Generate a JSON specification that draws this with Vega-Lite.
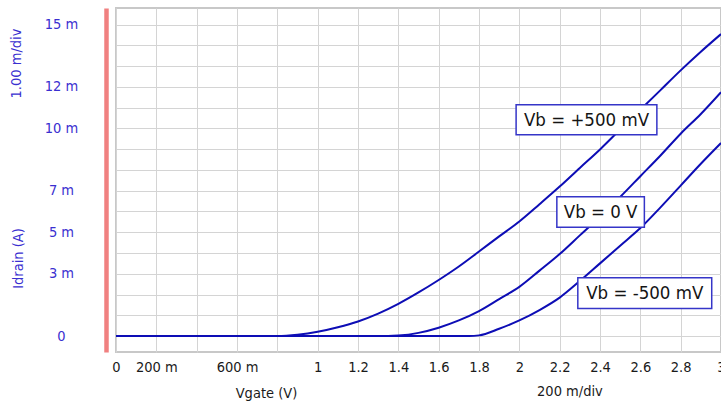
{
  "$schema": "https://vega.github.io/schema/vega-lite/v6.json",
  "width": 605,
  "height": 344,
  "autosize": {"type": "none"},
  "padding": {"left": 116, "top": 8, "right": 0, "bottom": 52},
  "background": "white",
  "config": {"view": {"stroke": "#c8c8c8", "strokeWidth": 2}},
  "layer": [
    {
      "data": {"values": [
        {"Vb": "+500 mV", "Vgate": 0, "Idrain": 0},
        {"Vb": "+500 mV", "Vgate": 0.8, "Idrain": 0},
        {"Vb": "+500 mV", "Vgate": 0.9, "Idrain": 0.00006},
        {"Vb": "+500 mV", "Vgate": 1.0, "Idrain": 0.0002},
        {"Vb": "+500 mV", "Vgate": 1.1, "Idrain": 0.00042},
        {"Vb": "+500 mV", "Vgate": 1.2, "Idrain": 0.0007},
        {"Vb": "+500 mV", "Vgate": 1.3, "Idrain": 0.00108},
        {"Vb": "+500 mV", "Vgate": 1.4, "Idrain": 0.00155},
        {"Vb": "+500 mV", "Vgate": 1.5, "Idrain": 0.0021},
        {"Vb": "+500 mV", "Vgate": 1.6, "Idrain": 0.0027},
        {"Vb": "+500 mV", "Vgate": 1.7, "Idrain": 0.00335},
        {"Vb": "+500 mV", "Vgate": 1.8, "Idrain": 0.00407},
        {"Vb": "+500 mV", "Vgate": 1.9, "Idrain": 0.0048},
        {"Vb": "+500 mV", "Vgate": 2.0, "Idrain": 0.00552},
        {"Vb": "+500 mV", "Vgate": 2.1, "Idrain": 0.00635},
        {"Vb": "+500 mV", "Vgate": 2.2, "Idrain": 0.0072},
        {"Vb": "+500 mV", "Vgate": 2.3, "Idrain": 0.0081},
        {"Vb": "+500 mV", "Vgate": 2.4, "Idrain": 0.00899},
        {"Vb": "+500 mV", "Vgate": 2.5, "Idrain": 0.00995},
        {"Vb": "+500 mV", "Vgate": 2.6, "Idrain": 0.0109},
        {"Vb": "+500 mV", "Vgate": 2.7, "Idrain": 0.01185},
        {"Vb": "+500 mV", "Vgate": 2.8, "Idrain": 0.0128},
        {"Vb": "+500 mV", "Vgate": 2.9, "Idrain": 0.0137},
        {"Vb": "+500 mV", "Vgate": 3.0, "Idrain": 0.01455},
        {"Vb": "0 V", "Vgate": 0, "Idrain": 0},
        {"Vb": "0 V", "Vgate": 1.35, "Idrain": 0},
        {"Vb": "0 V", "Vgate": 1.4, "Idrain": 0.00002},
        {"Vb": "0 V", "Vgate": 1.5, "Idrain": 0.00015},
        {"Vb": "0 V", "Vgate": 1.6, "Idrain": 0.0004},
        {"Vb": "0 V", "Vgate": 1.7, "Idrain": 0.00075},
        {"Vb": "0 V", "Vgate": 1.8, "Idrain": 0.0012},
        {"Vb": "0 V", "Vgate": 1.9, "Idrain": 0.00178},
        {"Vb": "0 V", "Vgate": 2.0, "Idrain": 0.00237},
        {"Vb": "0 V", "Vgate": 2.1, "Idrain": 0.00315},
        {"Vb": "0 V", "Vgate": 2.2, "Idrain": 0.00395},
        {"Vb": "0 V", "Vgate": 2.3, "Idrain": 0.00485},
        {"Vb": "0 V", "Vgate": 2.4, "Idrain": 0.00575},
        {"Vb": "0 V", "Vgate": 2.5, "Idrain": 0.0067},
        {"Vb": "0 V", "Vgate": 2.6, "Idrain": 0.0077},
        {"Vb": "0 V", "Vgate": 2.7, "Idrain": 0.0087},
        {"Vb": "0 V", "Vgate": 2.8, "Idrain": 0.00975},
        {"Vb": "0 V", "Vgate": 2.9, "Idrain": 0.0107},
        {"Vb": "0 V", "Vgate": 3.0, "Idrain": 0.01175},
        {"Vb": "-500 mV", "Vgate": 0, "Idrain": 0},
        {"Vb": "-500 mV", "Vgate": 1.75, "Idrain": 0},
        {"Vb": "-500 mV", "Vgate": 1.8, "Idrain": 0.00003},
        {"Vb": "-500 mV", "Vgate": 1.9, "Idrain": 0.00035},
        {"Vb": "-500 mV", "Vgate": 2.0, "Idrain": 0.00075},
        {"Vb": "-500 mV", "Vgate": 2.1, "Idrain": 0.00125},
        {"Vb": "-500 mV", "Vgate": 2.2, "Idrain": 0.00185},
        {"Vb": "-500 mV", "Vgate": 2.3, "Idrain": 0.00265},
        {"Vb": "-500 mV", "Vgate": 2.4, "Idrain": 0.0035},
        {"Vb": "-500 mV", "Vgate": 2.5, "Idrain": 0.00435},
        {"Vb": "-500 mV", "Vgate": 2.6, "Idrain": 0.0052},
        {"Vb": "-500 mV", "Vgate": 2.7, "Idrain": 0.0062},
        {"Vb": "-500 mV", "Vgate": 2.8, "Idrain": 0.00725},
        {"Vb": "-500 mV", "Vgate": 2.9, "Idrain": 0.0083},
        {"Vb": "-500 mV", "Vgate": 3.0, "Idrain": 0.0093}
      ]},
      "mark": {"type": "line", "color": "#0d0db5", "strokeWidth": 2, "interpolate": "monotone"},
      "encoding": {
        "x": {
          "field": "Vgate", "type": "quantitative",
          "scale": {"domain": [0, 3], "nice": false, "zero": false},
          "axis": {
            "values": [0, 0.2, 0.4, 0.6, 0.8, 1, 1.2, 1.4, 1.6, 1.8, 2, 2.2, 2.4, 2.6, 2.8, 3],
            "tickCount": 100,
            "labelExpr": "(round(datum.value * 5) == 2 || round(datum.value * 5) == 4) ? '' : (datum.value > 0 && datum.value < 1 ? format(round(datum.value * 1000), 'd') + ' m' : format(datum.value, '~g'))",
            "domain": false, "ticks": false, "tickSize": 0,
            "labelPadding": 8, "labelFont": "DejaVu Sans Condensed", "labelFontSize": 14.5, "labelColor": "#1a1a1a",
            "labelFlush": false, "labelOverlap": false, "labelBound": false,
            "grid": true, "gridColor": "#d4d4d4", "gridWidth": 1,
            "title": "Vgate (V)", "titleFont": "DejaVu Sans Condensed", "titleFontSize": 14.5, "titleFontWeight": "normal", "titleColor": "#1a1a1a",
            "titleX": 150, "titleY": 41, "titleAlign": "center", "titleBaseline": "middle"
          }
        },
        "y": {
          "field": "Idrain", "type": "quantitative",
          "scale": {"domain": [-0.000771, 0.015807], "nice": false, "zero": false},
          "axis": {
            "values": [0, 0.001, 0.002, 0.003, 0.004, 0.005, 0.006, 0.007, 0.008, 0.009, 0.01, 0.011, 0.012, 0.013, 0.014, 0.015],
            "tickCount": 100,
            "labelExpr": "(round(datum.value * 1000) == 0) ? '0' : ((round(datum.value * 1000) == 3 || round(datum.value * 1000) == 5 || round(datum.value * 1000) == 7 || round(datum.value * 1000) == 10 || round(datum.value * 1000) == 12 || round(datum.value * 1000) == 15) ? format(round(datum.value * 1000), 'd') + ' m' : '')",
            "offset": 10, "domainColor": "#f08080", "domainWidth": 4.5,
            "ticks": false, "tickSize": 0,
            "labelPadding": 45, "labelAlign": "center", "labelBaseline": "middle",
            "labelFont": "DejaVu Sans Condensed", "labelFontSize": 14.5, "labelColor": "#3a2fd0",
            "labelOverlap": false, "labelBound": false, "labelFlush": false,
            "grid": true, "gridColor": "#d4d4d4", "gridWidth": 1,
            "title": "Idrain (A)", "titleFont": "DejaVu Sans Condensed", "titleFontSize": 14.5, "titleFontWeight": "normal", "titleColor": "#3a2fd0",
            "titleX": -88, "titleY": 250, "titleAngle": 270, "titleAlign": "center", "titleBaseline": "middle"
          }
        },
        "detail": {"field": "Vb"}
      }
    },
    {
      "data": {"values": [{}]},
      "mark": {"type": "text", "text": "1.00 m/div", "angle": 270, "font": "DejaVu Sans Condensed", "fontSize": 14.5, "color": "#3a2fd0", "align": "center", "baseline": "middle"},
      "encoding": {"x": {"datum": -0.491, "type": "quantitative"}, "y": {"datum": 0.01313, "type": "quantitative"}}
    },
    {
      "data": {"values": [{}]},
      "mark": {"type": "text", "text": "200 m/div", "font": "DejaVu Sans Condensed", "fontSize": 14.5, "color": "#1a1a1a", "align": "center", "baseline": "middle"},
      "encoding": {"x": {"datum": 2.251, "type": "quantitative"}, "y": {"datum": -0.0027, "type": "quantitative"}}
    },
    {
      "data": {"values": [{}]},
      "mark": {"type": "rect", "fill": "white", "stroke": "#3535c8", "strokeWidth": 1.5},
      "encoding": {"x": {"datum": 1.984, "type": "quantitative"}, "x2": {"datum": 2.682}, "y": {"datum": 0.01115, "type": "quantitative"}, "y2": {"datum": 0.0097}}
    },
    {
      "data": {"values": [{}]},
      "mark": {"type": "text", "text": "Vb = +500 mV", "font": "DejaVu Sans Condensed", "fontSize": 18.5, "color": "#141414", "align": "center", "baseline": "middle"},
      "encoding": {"x": {"datum": 2.333, "type": "quantitative"}, "y": {"datum": 0.01043, "type": "quantitative"}}
    },
    {
      "data": {"values": [{}]},
      "mark": {"type": "rect", "fill": "white", "stroke": "#3535c8", "strokeWidth": 1.5},
      "encoding": {"x": {"datum": 2.186, "type": "quantitative"}, "x2": {"datum": 2.62}, "y": {"datum": 0.00671, "type": "quantitative"}, "y2": {"datum": 0.00524}}
    },
    {
      "data": {"values": [{}]},
      "mark": {"type": "text", "text": "Vb = 0 V", "font": "DejaVu Sans Condensed", "fontSize": 18.5, "color": "#141414", "align": "center", "baseline": "middle"},
      "encoding": {"x": {"datum": 2.403, "type": "quantitative"}, "y": {"datum": 0.00598, "type": "quantitative"}}
    },
    {
      "data": {"values": [{}]},
      "mark": {"type": "rect", "fill": "white", "stroke": "#3535c8", "strokeWidth": 1.5},
      "encoding": {"x": {"datum": 2.29, "type": "quantitative"}, "x2": {"datum": 2.954}, "y": {"datum": 0.00281, "type": "quantitative"}, "y2": {"datum": 0.00133}}
    },
    {
      "data": {"values": [{}]},
      "mark": {"type": "text", "text": "Vb = -500 mV", "font": "DejaVu Sans Condensed", "fontSize": 18.5, "color": "#141414", "align": "center", "baseline": "middle"},
      "encoding": {"x": {"datum": 2.622, "type": "quantitative"}, "y": {"datum": 0.00207, "type": "quantitative"}}
    }
  ]
}
